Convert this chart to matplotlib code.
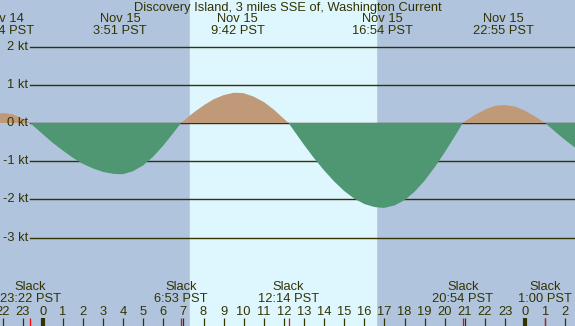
import matplotlib
matplotlib.use('Agg')
import matplotlib.pyplot as plt
import matplotlib.transforms as mtransforms

plt.rcParams['font.family'] = ['Liberation Sans', 'DejaVu Sans']

# hours from Nov 15 00:00 PST, current speed in knots
hours = [-2.5, -1.93, -1.5, -1.0, -0.63, -0.5, 0.0, 0.5, 1.0, 1.5, 2.0, 2.5, 3.0, 3.5, 3.85,
         4.0, 4.5, 5.0, 5.5, 6.0, 6.5, 6.88, 7.0, 7.5, 8.0, 8.5, 9.0, 9.5, 9.7,
         10.0, 10.5, 11.0, 11.5, 12.0, 12.23, 12.5, 13.0, 13.5, 14.0, 14.5, 15.0, 15.5, 16.0, 16.5, 16.9,
         17.0, 17.5, 18.0, 18.5, 19.0, 19.5, 20.0, 20.5, 20.9, 21.0, 21.5, 22.0, 22.5, 22.92,
         23.0, 23.5, 24.0, 24.5, 25.0, 25.5, 26.0, 26.5, 27.0]
speed = [0.24, 0.26, 0.23, 0.11, 0.00, -0.06, -0.29, -0.52, -0.72, -0.91, -1.07, -1.19, -1.28, -1.33, -1.34,
         -1.34, -1.26, -1.11, -0.88, -0.59, -0.26, 0.00, 0.05, 0.27, 0.46, 0.62, 0.73, 0.79, 0.79,
         0.78, 0.69, 0.55, 0.35, 0.11, 0.00, -0.20, -0.57, -0.92, -1.24, -1.53, -1.78, -1.98, -2.12, -2.20, -2.22,
         -2.22, -2.16, -2.02, -1.80, -1.51, -1.16, -0.77, -0.35, 0.00, 0.04, 0.21, 0.35, 0.45, 0.47,
         0.47, 0.43, 0.32, 0.17, 0.00, -0.23, -0.45, -0.65, -0.84]

peak_hours = [-1.93, 3.85, 9.70, 16.90, 22.92]
peak_dates = ['Nov 14', 'Nov 15', 'Nov 15', 'Nov 15', 'Nov 15']
peak_times = ['22:04 PST', '3:51 PST', '9:42 PST', '16:54 PST', '22:55 PST']

slack_hours = [-0.63, 6.88, 12.23, 20.90, 25.0]
slack_times = ['23:22 PST', '6:53 PST', '12:14 PST', '20:54 PST', '1:00 PST']

sunrise, sunset = 7.33, 16.58
kt_levels = [2, 1, 0, -1, -2, -3]
hour_ticks = list(range(-2, 27))

title = 'Discovery Island, 3 miles SSE of, Washington Current'

night = '#b0c4de'
day = '#def7ff'
flood = '#c09a78'
ebb = '#4f9672'
ink = '#333300'
fs = 9.3

W, H = 575, 326
x0px, pxh = 42.7, 20.1
y0px, pxkt = 123, 38.2

fig = plt.figure(figsize=(W / 100, H / 100), dpi=100)
ax = fig.add_axes([0, 0, 1, 1])
ax.set_xlim(-x0px / pxh, (W - x0px) / pxh)
ax.set_ylim(-(H - y0px) / pxkt, y0px / pxkt)
ax.axis('off')
fig.patch.set_facecolor(night)

ax.axvspan(sunrise, sunset, color=day, zorder=0)

for k in kt_levels:
    ax.axhline(k, xmin=30 / W, xmax=1, color=ink, lw=1.0, zorder=1)
    ax.text(28 / pxh - x0px / pxh, k, f'{k} kt', ha='right', va='center', color=ink, fontsize=fs)

ax.fill_between(hours, speed, 0, where=[s >= 0 for s in speed], interpolate=True,
                color=flood, lw=0, zorder=2)
ax.fill_between(hours, speed, 0, where=[s <= 0 for s in speed], interpolate=True,
                color=ebb, lw=0, zorder=2)

tr = mtransforms.blended_transform_factory(ax.transData, ax.transAxes)


def fy(px):
    return 1 - px / H


ax.text(0.5, fy(7.5), title, transform=ax.transAxes, ha='center', va='center', color=ink, fontsize=fs)

for h, d, t in zip(peak_hours, peak_dates, peak_times):
    ax.text(h, fy(19.5), d, transform=tr, ha='center', va='center', color=ink, fontsize=fs)
    ax.text(h, fy(31.5), t, transform=tr, ha='center', va='center', color=ink, fontsize=fs)

for h, t in zip(slack_hours, slack_times):
    ax.text(h, fy(287.5), 'Slack', transform=tr, ha='center', va='center', color=ink, fontsize=fs)
    ax.text(h, fy(299.5), t, transform=tr, ha='center', va='center', color=ink, fontsize=fs)
    ax.vlines(h, 0, 8 / H, transform=tr, color='red', lw=0.9, zorder=4)

for h in hour_ticks:
    ax.text(h, fy(312), str(h % 24), transform=tr, ha='center', va='center', color=ink, fontsize=fs)
    lw = 3.0 if h % 24 == 0 else 0.9
    ax.vlines(h, 0, 8 / H, transform=tr, color=ink, lw=lw, zorder=3)

fig.savefig('out.png', dpi=100, facecolor=night)
